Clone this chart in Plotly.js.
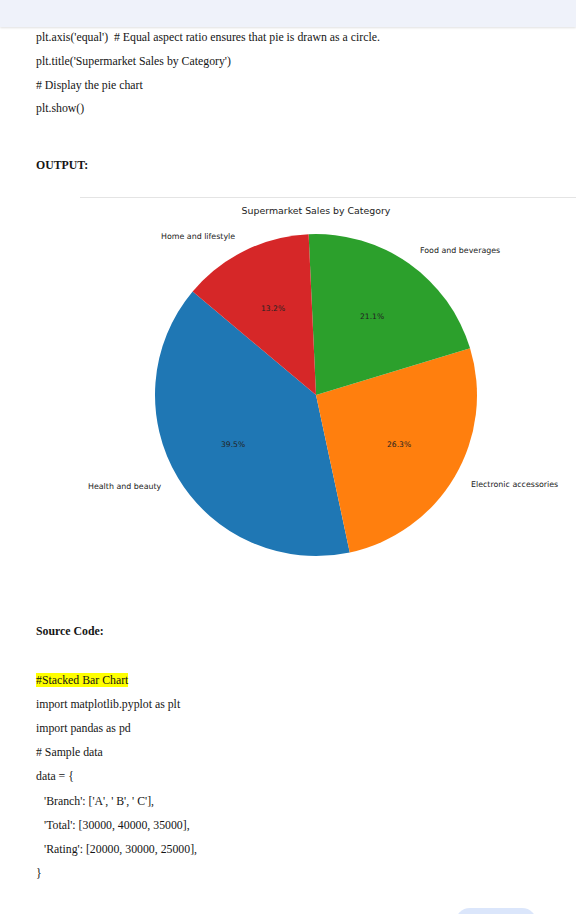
<!DOCTYPE html>
<html>
<head>
<meta charset="utf-8">
<script src="https://cdn.plot.ly/plotly-3.0.1.min.js"></script>
<style>
  html, body { margin:0; padding:0; background:#ffffff; width:576px; height:914px; overflow:hidden; }
  #topbar { position:absolute; left:0; top:0; width:576px; height:27px; background:#eff2fa; box-shadow:0 1px 2px rgba(0,0,0,0.12); }
  .ln { position:absolute; left:36px; font-family:"Liberation Serif","Times New Roman",serif; font-size:11.8px; line-height:14px; color:#151515; white-space:pre; }
  .b { font-weight:bold; }
  .hl { background:#ffff00; }
  #rule { position:absolute; left:80px; top:197px; width:496px; height:0; border-top:1.5px solid #e4e4e4; }
  #chart { position:absolute; left:80px; top:199px; width:496px; height:400px; }
  #blob { position:absolute; left:455px; top:908px; width:82px; height:30px; border-radius:15px; background:#dbe6fb; }
</style>
</head>
<body>
<div id="topbar"></div>
<div class="ln" style="top:30px">plt.axis('equal')  # Equal aspect ratio ensures that pie is drawn as a circle.</div>
<div class="ln" style="top:54px">plt.title('Supermarket Sales by Category')</div>
<div class="ln" style="top:78px"># Display the pie chart</div>
<div class="ln" style="top:101px">plt.show()</div>
<div class="ln b" style="top:158px">OUTPUT:</div>
<div id="rule"></div>
<div id="chart"></div>
<div class="ln b" style="top:624px">Source Code:</div>
<div class="ln" style="top:673px"><span class="hl">#Stacked Bar Chart</span></div>
<div class="ln" style="top:697px">import matplotlib.pyplot as plt</div>
<div class="ln" style="top:721px">import pandas as pd</div>
<div class="ln" style="top:745px"># Sample data</div>
<div class="ln" style="top:769px">data = {</div>
<div class="ln" style="top:794px;left:44px">'Branch': ['A', ' B', ' C'],</div>
<div class="ln" style="top:818px;left:44px">'Total': [30000, 40000, 35000],</div>
<div class="ln" style="top:842px;left:44px">'Rating': [20000, 30000, 25000],</div>
<div class="ln" style="top:866px">}</div>
<div id="blob"></div>
<script>
// ---- data ----
const categories = ['Health and beauty', 'Electronic accessories', 'Food and beverages', 'Home and lifestyle'];
const sales = [15, 10, 8, 5];
const colors = ['#1f77b4', '#ff7f0e', '#2ca02c', '#d62728'];
const chartTitle = 'Supermarket Sales by Category';
const startAngle = 140; // matplotlib-style start angle (deg, counterclockwise from 3 o'clock)

// ---- layout geometry (pixels within chart div) ----
const W = 496, H = 400;
const cx = 236, cy = 196, R = 161;

const total = sales.reduce((a, b) => a + b, 0);
// Plotly: counterclockwise, first slice spans [rot, rot+a0] measured clockwise from 12 o'clock
const rot = (90 - startAngle) - 360 * sales[0] / total;

const trace = {
  type: 'pie',
  labels: categories,
  values: sales,
  sort: false,
  direction: 'counterclockwise',
  rotation: rot,
  marker: { colors: colors, line: { width: 0 } },
  textinfo: 'none',
  hoverinfo: 'label+percent',
  showlegend: false,
  domain: { x: [(cx - R) / W, (cx + R) / W], y: [(H - cy - R) / H, (H - cy + R) / H] }
};

const annotations = [];
let cum = 0;
sales.forEach((v, i) => {
  const mid = (startAngle + 360 * (cum + v / 2) / total) * Math.PI / 180;
  cum += v;
  const c = Math.cos(mid), s = Math.sin(mid);
  // category label at 1.1 R
  const lx = cx + 1.1 * R * c, ly = cy - 1.1 * R * s;
  annotations.push({
    x: lx / W, y: 1 - ly / H, xref: 'paper', yref: 'paper',
    text: categories[i], showarrow: false,
    xanchor: c >= 0 ? 'left' : 'right', yanchor: 'middle',
    font: { family: 'DejaVu Sans', size: 7.9, color: '#222222' }
  });
  // percentage at 0.6 R
  const px = cx + 0.6 * R * c, py = cy - 0.6 * R * s;
  annotations.push({
    x: px / W, y: 1 - py / H, xref: 'paper', yref: 'paper',
    text: (100 * v / total).toFixed(1) + '%', showarrow: false,
    xanchor: 'center', yanchor: 'middle',
    font: { family: 'DejaVu Sans', size: 7.6, color: '#222222' }
  });
});

const layout = {
  width: W, height: H,
  margin: { l: 0, r: 0, t: 0, b: 0 },
  paper_bgcolor: '#ffffff',
  title: {
    text: chartTitle,
    x: cx / W, xanchor: 'center', xref: 'paper',
    y: 1 - 12 / H, yanchor: 'middle', yref: 'container',
    font: { family: 'DejaVu Sans', size: 9.4, color: '#222222' }
  },
  annotations: annotations
};

Plotly.newPlot('chart', [trace], layout, { displayModeBar: false, staticPlot: true });
</script>
</body>
</html>
